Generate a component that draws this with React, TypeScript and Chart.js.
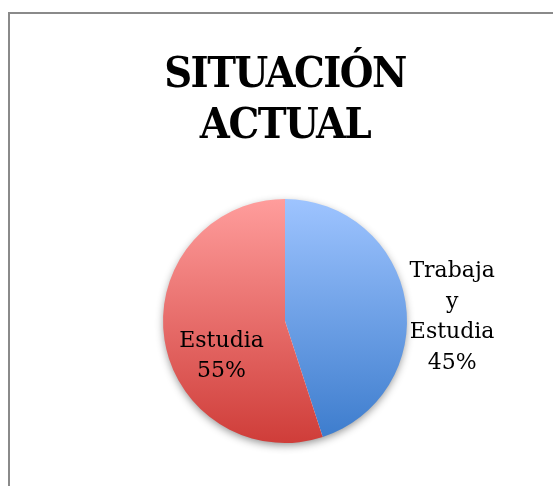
import React, { useEffect, useRef } from "react";
import { Chart, registerables } from "chart.js";

Chart.register(...registerables);

const titleLines = ["SITUACIÓN", "ACTUAL"];
const categories = ["Trabaja y Estudia", "Estudia"];
const values = [45, 55];
const labelLines = [["Trabaja", "y", "Estudia"], ["Estudia"]];

const framePlugin = {
  id: "frame",
  beforeDraw(chart: any) {
    const ctx = chart.ctx;
    ctx.save();
    ctx.fillStyle = "#ffffff";
    ctx.fillRect(0, 0, chart.width, chart.height);
    ctx.strokeStyle = "#8a8a8a";
    ctx.lineWidth = 2;
    ctx.strokeRect(9, 13, chart.width + 20, chart.height + 20);
    ctx.restore();
    // tighten the title letters a little
    ctx.letterSpacing = "-1.5px";
  },
  beforeDatasetsDraw(chart: any) {
    const ctx = chart.ctx;
    ctx.letterSpacing = "0px";
    const meta = chart.getDatasetMeta(0);
    const arc = meta.data[0];
    if (!arc) return;
    const { x, y, outerRadius } = arc.getProps(["x", "y", "outerRadius"], true);
    ctx.save();
    ctx.shadowColor = "rgba(0,0,0,0.45)";
    ctx.shadowBlur = 8;
    ctx.shadowOffsetY = 3;
    ctx.fillStyle = "#ffffff";
    ctx.beginPath();
    ctx.arc(x, y, outerRadius - 1, 0, Math.PI * 2);
    ctx.fill();
    ctx.restore();
  },
  afterDatasetsDraw(chart: any) {
    const meta = chart.getDatasetMeta(0);
    const total = values.reduce((a, b) => a + b, 0);
    const ctx = chart.ctx;
    ctx.save();
    ctx.letterSpacing = "0px";
    ctx.fillStyle = "#000000";
    ctx.font = '22px "DejaVu Serif", serif';
    ctx.textAlign = "center";
    ctx.textBaseline = "middle";
    const offsets = [
      [1.37, -0.03],
      [-0.52, 0.29],
    ];
    const lh = 30.5;
    meta.data.forEach((arc: any, i: number) => {
      const { x, y, outerRadius } = arc.getProps(["x", "y", "outerRadius"], true);
      const lines = [...labelLines[i], Math.round((values[i] / total) * 100) + "%"];
      const cx = x + offsets[i][0] * outerRadius;
      const cy = y + offsets[i][1] * outerRadius;
      const startY = cy - ((lines.length - 1) * lh) / 2;
      lines.forEach((t, k) => ctx.fillText(t, cx, startY + k * lh));
    });
    ctx.restore();
  },
};

function makeGradient(chart: any, top: string, bottom: string) {
  const area = chart.chartArea;
  if (!area) return top;
  const g = chart.ctx.createLinearGradient(0, area.top, 0, area.bottom);
  g.addColorStop(0, top);
  g.addColorStop(1, bottom);
  return g;
}

export default function App() {
  const ref = useRef<HTMLCanvasElement>(null);
  useEffect(() => {
    if (!ref.current) return;
    const chart = new Chart(ref.current, {
      type: "pie",
      data: {
        labels: categories,
        datasets: [
          {
            data: values,
            borderWidth: 0,
            backgroundColor: (c: any) =>
              c.dataIndex === 0
                ? makeGradient(c.chart, "#9ec4ff", "#3b7bcc")
                : makeGradient(c.chart, "#ff9d9c", "#cf3d39"),
          },
        ],
      },
      options: {
        responsive: false,
        animation: false,
        layout: { padding: { left: 163, right: 146, top: 0, bottom: 43 } },
        plugins: {
          legend: { display: false },
          tooltip: { enabled: false },
          title: {
            display: true,
            text: titleLines,
            color: "#000000",
            font: {
              family: '"DejaVu Serif Condensed", "DejaVu Serif", serif',
              size: 43,
              weight: "bold",
              lineHeight: 1.17,
            },
            padding: { top: 51, bottom: 47.4 },
          },
        },
      },
      plugins: [framePlugin],
    });
    return () => chart.destroy();
  }, []);
  return (
    <canvas
      ref={ref}
      width={553}
      height={486}
      style={{ position: "fixed", left: 0, top: 0, width: 553, height: 486, display: "block" }}
    />
  );
}
